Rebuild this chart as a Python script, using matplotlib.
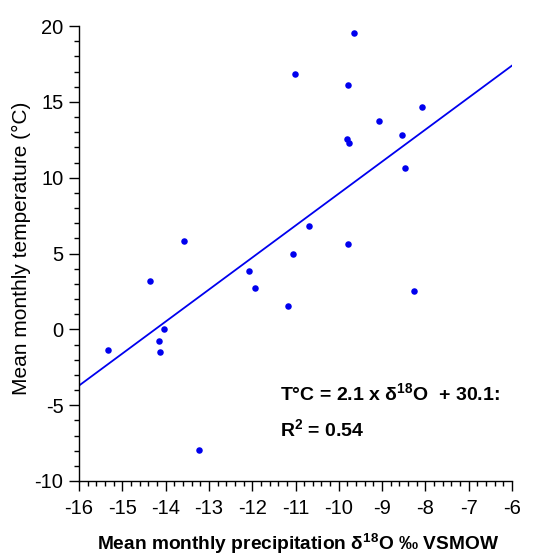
import matplotlib
matplotlib.use("Agg")
import matplotlib.pyplot as plt
import numpy as np
from matplotlib.ticker import MultipleLocator

plt.rcParams['font.family'] = ['Liberation Sans', 'DejaVu Sans']
plt.rcParams['mathtext.fontset'] = 'custom'
plt.rcParams['mathtext.rm'] = 'Liberation Sans'
plt.rcParams['mathtext.bf'] = 'Liberation Sans:bold'
plt.rcParams['mathtext.default'] = 'regular'
plt.rcParams['axes.unicode_minus'] = False

# Data
d18o = [-9.65, -11.01, -9.78, -8.08, -9.08, -8.53, -9.80, -9.77, -8.48,
        -10.69, -13.58, -9.78, -11.05, -12.08, -14.36, -11.94, -8.27,
        -11.18, -14.04, -14.15, -15.32, -14.13, -13.24]
temp = [19.54, 16.81, 16.11, 14.66, 13.76, 12.81, 12.57, 12.31, 10.66,
        6.84, 5.85, 5.65, 4.95, 3.87, 3.17, 2.73, 2.53,
        1.56, 0.05, -0.77, -1.34, -1.47, -7.95]
fit_slope = 2.11
fit_intercept = 30.05
fit_range = [-16, -6]

fig = plt.figure(figsize=(5.48, 5.56), dpi=100)
ax = fig.add_axes([79/548, 1-481/556, (512-79)/548, (481-26)/556])

ax.scatter(d18o, temp, s=22, color='#0000ee', zorder=3, linewidths=0)
xf = np.array(fit_range, dtype=float)
ax.plot(xf, fit_slope*xf + fit_intercept, color='#0000ee', lw=1.3, zorder=2)

ax.set_xlim(-16, -6)
ax.set_ylim(-10, 20)
ax.xaxis.set_major_locator(MultipleLocator(1))
ax.xaxis.set_minor_locator(MultipleLocator(0.2))
ax.yaxis.set_major_locator(MultipleLocator(5))
ax.yaxis.set_minor_locator(MultipleLocator(1))
ax.spines['top'].set_visible(False)
ax.spines['right'].set_visible(False)
for s in ['left', 'bottom']:
    ax.spines[s].set_linewidth(1.0)
ax.tick_params(which='major', direction='out', length=7.2, width=1, labelsize=14.5, pad=4)
ax.tick_params(which='minor', direction='out', length=3.6, width=1)
ax.tick_params(axis='x', pad=6)

fig.text(21/548, 1-248/556, 'Mean monthly temperature (°C)', rotation=90,
         ha='center', va='center', fontsize=15)
fig.text(298/548, 1-550/556, r'Mean monthly precipitation δ$^{18}$O ‰ VSMOW',
         ha='center', va='baseline', fontsize=13.8, fontweight='bold')

ax.text(-11.35, -4.19, r'T°C = 2.1 x δ$^{18}$O  + 30.1:', ha='left', va='center',
        fontsize=14, fontweight='bold')
ax.text(-11.35, -6.57, r'R$^{2}$ = 0.54', ha='left', va='center',
        fontsize=14, fontweight='bold')

fig.savefig('out.png', dpi=100)
